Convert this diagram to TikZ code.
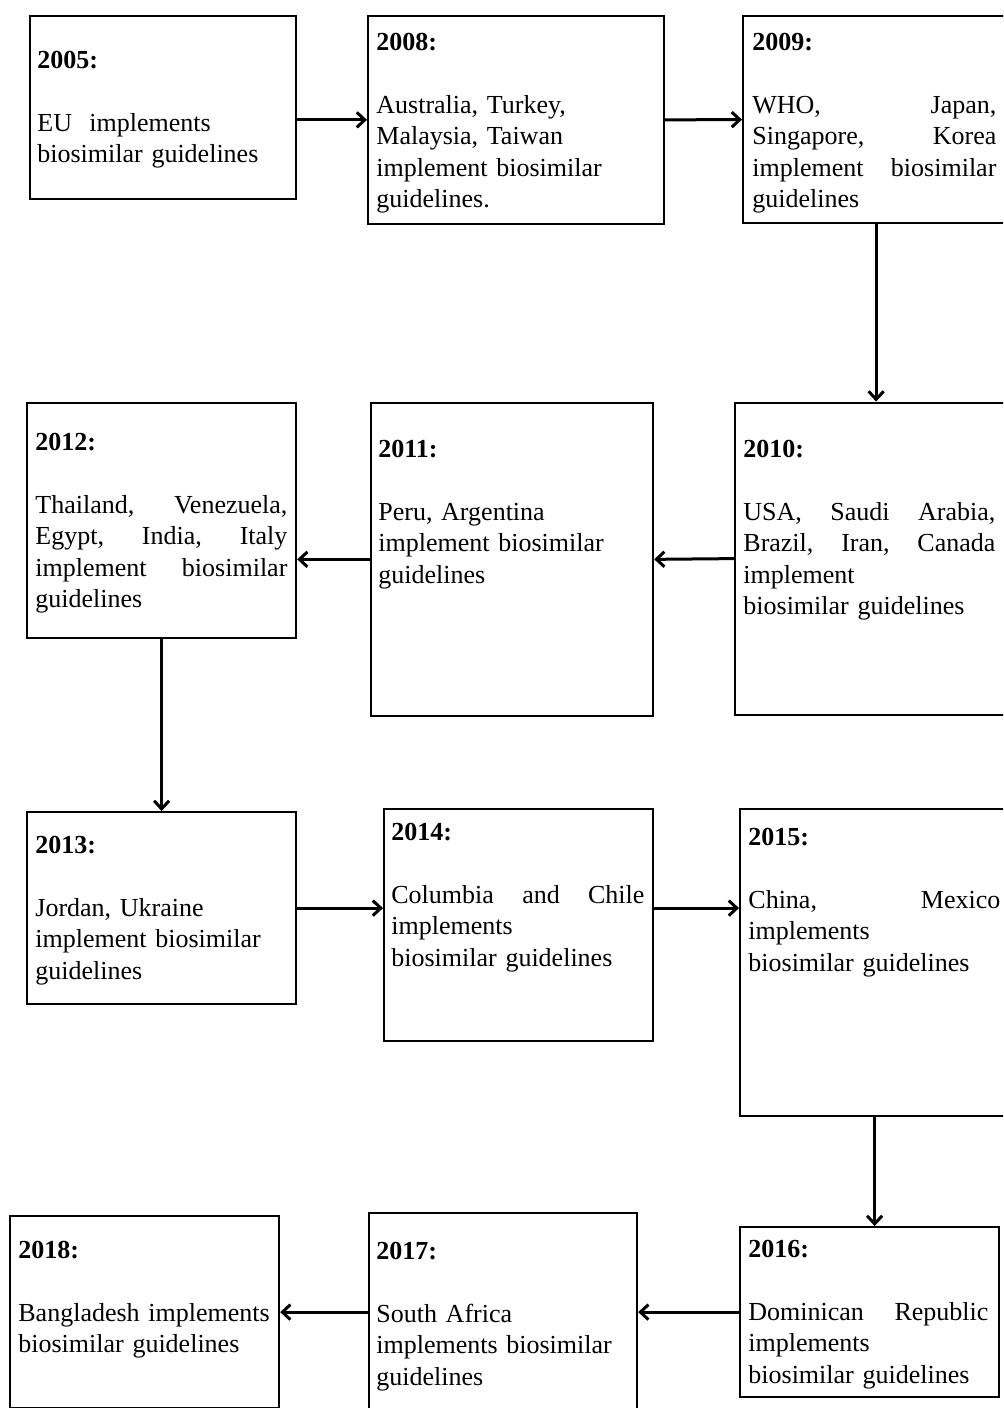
\documentclass[tikz,border=0pt]{standalone}
\usepackage{fontspec}
\setmainfont{Liberation Serif}
\usetikzlibrary{arrows.meta}

\begin{document}
\begin{tikzpicture}[x=0.5pt, y=-0.5pt, >={Straight Barb[length=4pt, width=7.5pt]},
	year/.style={draw, line width=1.1pt, anchor=north west, inner sep=0pt},
	txt/.style={anchor=base west, inner sep=0pt, text width=#1, font=\fontsize{13pt}{15.75pt}\selectfont},
	txt/.default=132pt,
	link/.style={->, line width=1.5pt}]
	\useasboundingbox (0,0) rectangle (1003,1408);
	\fill[white] (0,0) rectangle (1003,1408);
	\clip (0,0) rectangle (1003,1408);
	
	% boxes
	\node[year, minimum width=133pt, minimum height=91.5pt] (A) at (29,15) {};
	\node[year, minimum width=148pt, minimum height=103.75pt] (B) at (367,15) {};
	\node[year, minimum width=133pt, minimum height=103.5pt] (C) at (742,15) {};
	\node[year, minimum width=139pt, minimum height=156pt] (D) at (734,401.5) {};
	\node[year, minimum width=141pt, minimum height=156.75pt] (E) at (370,401.5) {};
	\node[year, minimum width=134.5pt, minimum height=117.5pt] (F) at (26,401.5) {};
	\node[year, minimum width=134.5pt, minimum height=96pt] (G) at (26,811) {};
	\node[year, minimum width=134.5pt, minimum height=116pt] (H) at (383,808) {};
	\node[year, minimum width=134.5pt, minimum height=153.5pt] (I) at (739,808) {};
	\node[year, minimum width=129.5pt, minimum height=85pt] (J) at (739,1226) {};
	\node[year, minimum width=134pt, minimum height=104.25pt] (K) at (368,1211.5) {};
	\node[year, minimum width=134.5pt, minimum height=96pt] (L) at (9,1215) {};
	
	% texts
	\node[txt] (tA) at (37,68.5) {\textbf{2005:}\\[\baselineskip]EU\ \ implements\\biosimilar guidelines};
	\node[txt] (tB) at (376,50) {\textbf{2008:}\\[\baselineskip]Australia, Turkey,\\Malaysia, Taiwan\\implement biosimilar\\guidelines.};
	\node[txt=122pt] (tC) at (752,50) {\textbf{2009:}\\[\baselineskip]WHO,\hfill Japan,\\Singapore,\hfill Korea\\implement\hfill biosimilar\\guidelines};
	\node[txt=126pt] (tD) at (743,457) {\textbf{2010:}\\[\baselineskip]USA,\hfill Saudi\hfill Arabia,\\Brazil,\hfill Iran,\hfill Canada\\implement\\biosimilar guidelines};
	\node[txt] (tE) at (378,457) {\textbf{2011:}\\[\baselineskip]Peru, Argentina\\implement biosimilar\\guidelines};
	\node[txt=126pt] (tF) at (35,450) {\textbf{2012:}\\[\baselineskip]Thailand,\hfill Venezuela,\\Egypt,\hfill India,\hfill Italy\\implement\hfill biosimilar\\guidelines};
	\node[txt] (tG) at (35,853) {\textbf{2013:}\\[\baselineskip]Jordan, Ukraine\\implement biosimilar\\guidelines};
	\node[txt=126.5pt] (tH) at (391,840) {\textbf{2014:}\\[\baselineskip]Columbia\hfill and\hfill Chile\\implements\\biosimilar guidelines};
	\node[txt=126pt] (tI) at (748,845) {\textbf{2015:}\\[\baselineskip]China,\hfill Mexico\\implements\\biosimilar guidelines};
	\node[txt=120pt] (tJ) at (748,1257) {\textbf{2016:}\\[\baselineskip]Dominican\hfill Republic\\implements\\biosimilar guidelines};
	\node[txt] (tK) at (376,1259) {\textbf{2017:}\\[\baselineskip]South Africa\\implements biosimilar\\guidelines};
	\node[txt] (tL) at (18,1258) {\textbf{2018:}\\[\baselineskip]Bangladesh implements\\biosimilar guidelines};
	
	% arrows
	\draw[link] (A.east |- B.west) -- (B.west);
	\draw[link] (B.east) -- (C.west);
	\draw[link] (C.south) -- (C.south |- D.north);
	\draw[link] (D.west) -- (E.east);
	\draw[link] (E.west) -- (E.west -| F.east);
	\draw[link] (F.south) -- (G.north);
	\draw[link] (G.east) -- (G.east -| H.west);
	\draw[link] (H.east |- G.east) -- (I.west |- G.east);
	\draw[link] (I.south) -- (I.south |- J.north);
	\draw[link] (J.west) -- (J.west -| K.east);
	\draw[link] (J.west -| K.west) -- (J.west -| L.east);
	
\end{tikzpicture}
\end{document}
